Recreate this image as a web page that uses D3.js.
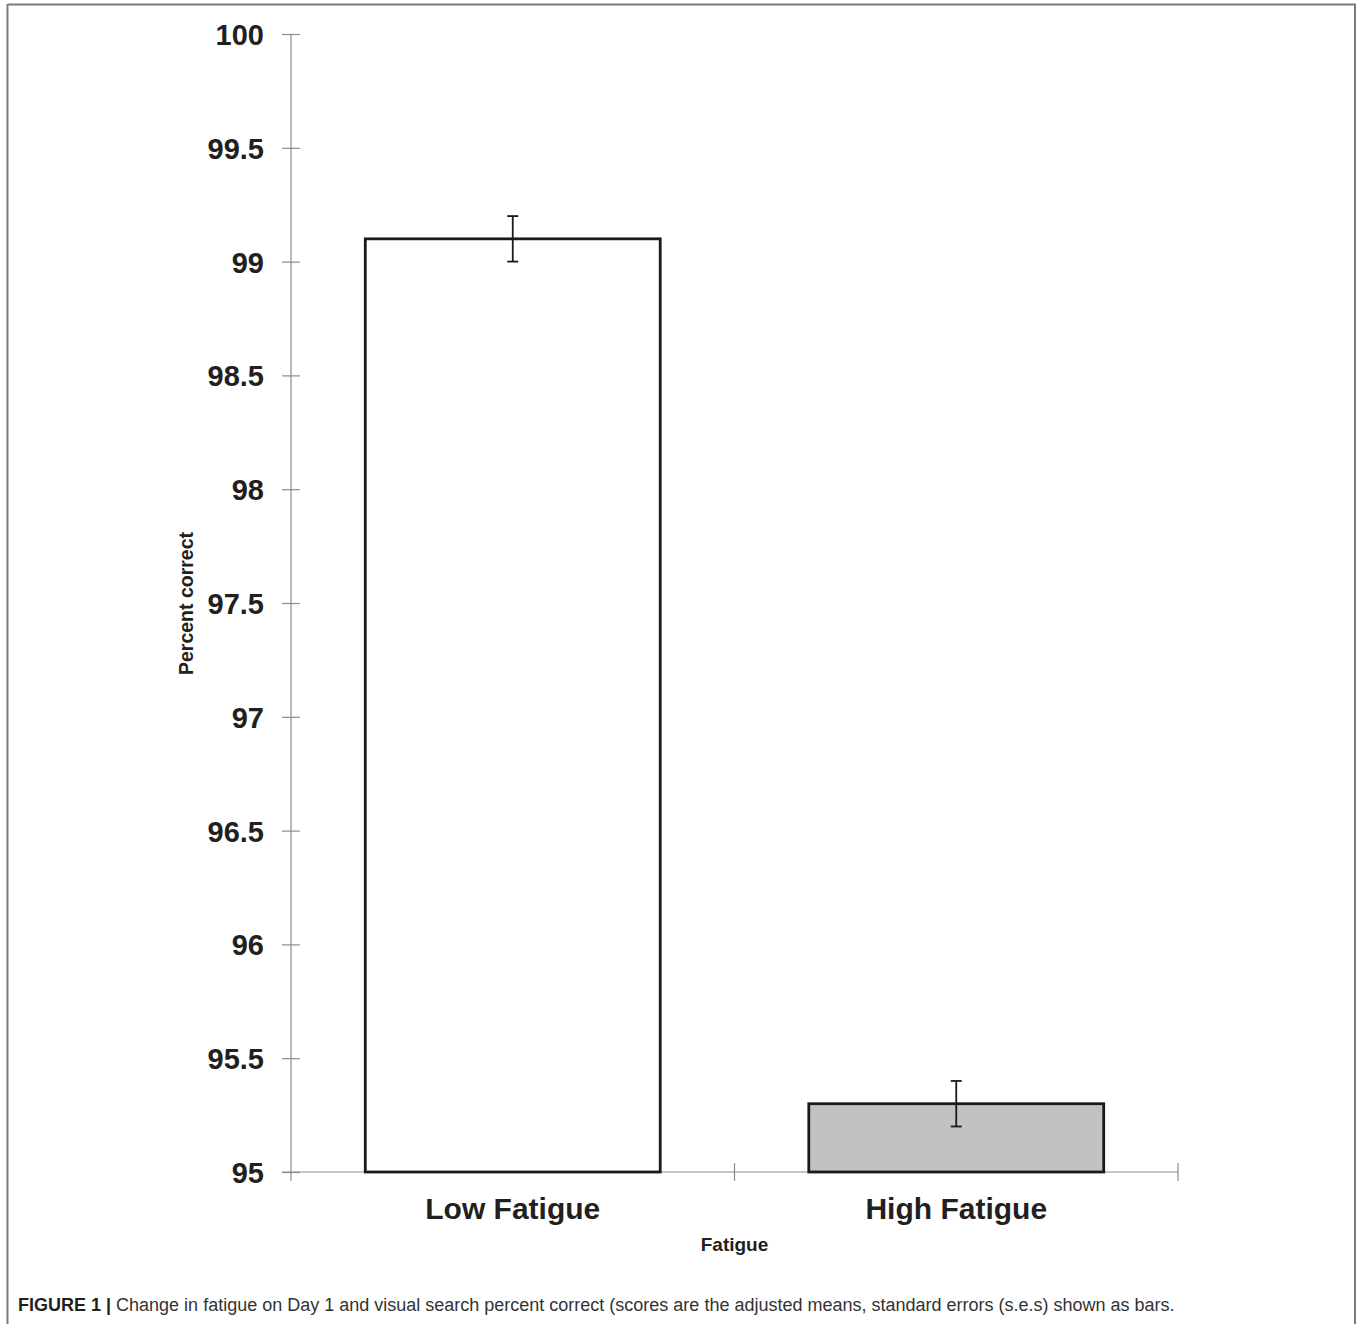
<!DOCTYPE html>
<html>
<head>
<meta charset="utf-8">
<script src="https://cdn.jsdelivr.net/npm/d3@7"></script>
<style>
  html, body { margin: 0; padding: 0; background: #fff; }
  svg { display: block; }
</style>
</head>
<body>
<svg id="chart" width="1357" height="1324"></svg>
<script>
const categories = ["Low Fatigue", "High Fatigue"];
const means = [99.1, 95.3];
const stdErrors = [0.1, 0.1];
const barFills = ["#ffffff", "#c1c2c4"];
const yTicks = [95, 95.5, 96, 96.5, 97, 97.5, 98, 98.5, 99, 99.5, 100];
const yLabel = "Percent correct";
const xLabel = "Fatigue";
const captionBold = "FIGURE 1 |";
const captionText = " Change in fatigue on Day 1 and visual search percent correct (scores are the adjusted means, standard errors (s.e.s) shown as bars.";

(function () {
const svg = d3.select("#chart");
const pLeft = 291, pRight = 1178, pTop = 34, pBottom = 1172;

const y = d3.scaleLinear().domain([95, 100]).range([pBottom, pTop]);
const x = d3.scaleBand().domain(categories).range([pLeft, pRight])
  .paddingInner(0.335).paddingOuter(0.1675);
const xOuter = d3.scaleBand().domain(categories).range([pLeft, pRight]);

// frame
const frame = svg.append("g").attr("stroke", "#7a7a7a").attr("stroke-width", 2).attr("fill", "none");
frame.append("line").attr("x1", 7.5).attr("x2", 1356).attr("y1", 4.5).attr("y2", 4.5);
frame.append("line").attr("x1", 7.5).attr("x2", 7.5).attr("y1", 4).attr("y2", 1324);
frame.append("line").attr("x1", 1355).attr("x2", 1355).attr("y1", 4).attr("y2", 1324);

// y axis
const yAxis = d3.axisLeft(y).tickValues(yTicks).tickSize(0).tickFormat(d => d3.format("")(d));
const gy = svg.append("g").attr("transform", `translate(${pLeft},0)`).call(yAxis);
gy.select(".domain").remove();
gy.selectAll(".tick text").attr("x", -27).attr("dy", "0.36em")
  .attr("font-family", "Liberation Sans, Arial, sans-serif").attr("font-weight", "bold")
  .attr("font-size", 29).attr("fill", "#231f20");
gy.selectAll(".tick").append("line").attr("x1", -9).attr("x2", 9)
  .attr("stroke", "#8c8c8c").attr("stroke-width", 1.2);
gy.append("line").attr("x1", 0).attr("x2", 0).attr("y1", pTop).attr("y2", pBottom + 9)
  .attr("stroke", "#8c8c8c").attr("stroke-width", 1.2);

// x axis
const gx = svg.append("g").attr("transform", `translate(0,${pBottom})`);
gx.append("line").attr("x1", pLeft - 9).attr("x2", pRight).attr("y1", 0).attr("y2", 0)
  .attr("stroke", "#8c8c8c").attr("stroke-width", 1.2);
const bounds = [pLeft + xOuter.step(), pRight];
gx.selectAll("line.xt").data(bounds).join("line").attr("class", "xt")
  .attr("x1", d => d).attr("x2", d => d).attr("y1", -9).attr("y2", 9)
  .attr("stroke", "#8c8c8c").attr("stroke-width", 1.2);
gx.selectAll("text.cat").data(categories).join("text").attr("class", "cat")
  .attr("x", d => x(d) + x.bandwidth() / 2).attr("y", 47)
  .attr("text-anchor", "middle")
  .attr("font-family", "Liberation Sans, Arial, sans-serif").attr("font-weight", "bold")
  .attr("font-size", 30).attr("fill", "#231f20").text(d => d);

// bars
const data = categories.map((c, i) => ({ c, m: means[i], se: stdErrors[i], fill: barFills[i] }));
svg.append("g").selectAll("rect").data(data).join("rect")
  .attr("x", d => x(d.c)).attr("width", x.bandwidth())
  .attr("y", d => y(d.m)).attr("height", d => y(95) - y(d.m))
  .attr("fill", d => d.fill).attr("stroke", "#1a1a1a").attr("stroke-width", 2.8);

// error bars
const eb = svg.append("g").attr("stroke", "#1a1a1a").attr("stroke-width", 1.8);
data.forEach(d => {
  const cx = x(d.c) + x.bandwidth() / 2;
  eb.append("line").attr("x1", cx).attr("x2", cx).attr("y1", y(d.m + d.se)).attr("y2", y(d.m - d.se));
  eb.append("line").attr("x1", cx - 5.5).attr("x2", cx + 5.5).attr("y1", y(d.m + d.se)).attr("y2", y(d.m + d.se));
  eb.append("line").attr("x1", cx - 5.5).attr("x2", cx + 5.5).attr("y1", y(d.m - d.se)).attr("y2", y(d.m - d.se));
});

// axis titles
svg.append("text").attr("x", (pLeft + pRight) / 2).attr("y", 1251).attr("text-anchor", "middle")
  .attr("font-family", "Liberation Sans, Arial, sans-serif").attr("font-weight", "bold")
  .attr("font-size", 19).attr("fill", "#231f20").text(xLabel);
svg.append("text").attr("transform", `translate(193,${(530 + 677) / 2}) rotate(-90)`)
  .attr("text-anchor", "middle")
  .attr("font-family", "Liberation Sans, Arial, sans-serif").attr("font-weight", "bold")
  .attr("font-size", 19.5).attr("fill", "#231f20").text(yLabel);

// caption
const cap = svg.append("text").attr("x", 18).attr("y", 1311)
  .attr("font-family", "Liberation Sans, Arial, sans-serif")
  .attr("font-size", 18).attr("fill", "#231f20");
cap.append("tspan").attr("font-weight", "bold").text(captionBold);
cap.append("tspan").attr("fill", "#333").text(captionText);
})();
</script>
</body>
</html>
